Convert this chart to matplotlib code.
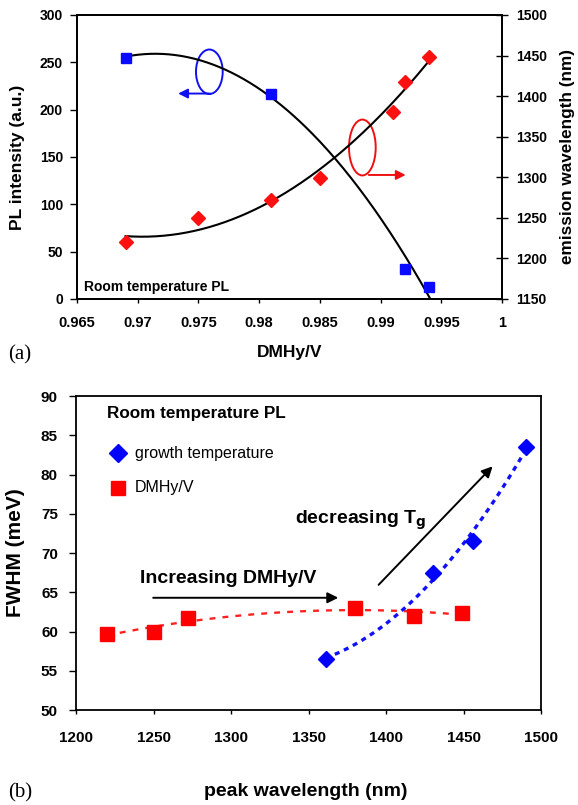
import numpy as np
import matplotlib
matplotlib.use("Agg")
import matplotlib.pyplot as plt
import matplotlib.patches as patches

plt.rcParams['font.family'] = ['Liberation Sans', 'DejaVu Sans']
plt.rcParams['font.weight'] = 'bold'

# (a) PL intensity and emission wavelength vs DMHy/V
dmhy_int = [0.969, 0.981, 0.992, 0.994]
pl_intensity = [255, 217, 32, 13]
dmhy_wl = [0.969, 0.975, 0.981, 0.985, 0.991, 0.992, 0.994]
emission_wl = [1220, 1250, 1272, 1299, 1380, 1418, 1448]
x_ticks_a = ['0.965', '0.97', '0.975', '0.98', '0.985', '0.99', '0.995', '1']

# (b) FWHM vs peak wavelength
wl_dmhy = [1220, 1250, 1272, 1380, 1418, 1449]
fwhm_dmhy = [59.7, 60.0, 61.7, 63.0, 62.0, 62.4]
wl_growth = [1361, 1430, 1456, 1490]
fwhm_growth = [56.5, 67.5, 71.5, 83.5]

BLUE = '#0a0aff'
RED = '#ff1010'

fig = plt.figure(figsize=(5.78, 8.05), dpi=100)

# ---------- panel (a) ----------
ax1 = fig.add_axes([0.1332, 0.6286, 0.7353, 0.3528])
ax1b = ax1.twinx()

# 2nd order trend lines
xs = np.linspace(min(dmhy_int), 0.9945, 200)
p_int = np.polyfit(dmhy_int, pl_intensity, 2)
ax1.plot(xs, np.polyval(p_int, xs), color='black', lw=1.5, zorder=2)
ax1.plot(dmhy_int, pl_intensity, 's', color=BLUE, ms=7.2, zorder=3)

xw = np.linspace(min(dmhy_wl), max(dmhy_wl), 200)
p_wl = np.polyfit(dmhy_wl, emission_wl, 2)
ax1b.plot(xw, np.polyval(p_wl, xw), color='black', lw=1.5, zorder=2)
ax1b.plot(dmhy_wl, emission_wl, 'D', color=RED, ms=7, zorder=3)

ax1.set_xlim(0.965, 1.0)
ax1.set_ylim(0, 300)
ax1b.set_ylim(1150, 1500)
ax1.set_xticks(np.linspace(0.965, 1.0, 8))
ax1.set_xticklabels(x_ticks_a)
ax1.set_yticks(np.arange(0, 301, 50))
ax1b.set_yticks(np.arange(1150, 1501, 50))
ax1.tick_params(axis='x', labelsize=10.5, length=3, width=1, pad=9)
ax1.tick_params(axis='y', labelsize=10, length=5, width=1, pad=5)
ax1b.tick_params(labelsize=10, length=8, width=1, direction='inout', pad=6)
ax1.set_xlabel('DMHy/V', fontsize=12.5, fontweight='bold', va='center')
ax1.xaxis.set_label_coords(0.5, -0.19)
ax1.set_ylabel('PL intensity (a.u.)', fontsize=12.5, fontweight='bold',
               va='center')
ax1.yaxis.set_label_coords(-0.141, 0.5)
ax1b.set_ylabel('emission wavelength (nm)', fontsize=12.3, fontweight='bold',
                va='center')
ax1b.yaxis.set_label_coords(1.155, 0.5)
for ax in (ax1, ax1b):
    for s in ax.spines.values():
        s.set_linewidth(1.3)

ax1.text(0.9656, 13, 'Room temperature PL', fontsize=10, fontweight='bold',
         va='center')

# blue ellipse pointing to left axis
ax1.add_patch(patches.Ellipse((0.9759, 240), 0.0022, 47, fill=False,
                              edgecolor='#1010ee', lw=1.4))
ax1.annotate('', xy=(0.9731, 217), xytext=(0.9762, 217),
             arrowprops=dict(arrowstyle='-|>', color='#1010ee', lw=1.4,
                             mutation_scale=14))
# red ellipse pointing to right axis
ax1.add_patch(patches.Ellipse((0.9885, 160), 0.0022, 59, fill=False,
                              edgecolor='#ee1010', lw=1.4, zorder=4))
ax1.annotate('', xy=(0.9923, 131), xytext=(0.9888, 131),
             arrowprops=dict(arrowstyle='-|>', color='#ee1010', lw=1.4,
                             mutation_scale=14))

fig.text(0.014, 1 - 355 / 805, '(a)', fontsize=15, family='Liberation Serif',
         fontweight='normal', va='center')

# ---------- panel (b) ----------
ax2 = fig.add_axes([0.1315, 0.118, 0.8045, 0.390])

xr = np.linspace(min(wl_dmhy), max(wl_dmhy), 200)
p_r = np.polyfit(wl_dmhy, fwhm_dmhy, 2)
ax2.plot(xr, np.polyval(p_r, xr), color='#ff2020', lw=1.7,
         dashes=(2.5, 3), zorder=2)
xb = np.linspace(min(wl_growth), max(wl_growth), 200)
p_b = np.polyfit(wl_growth, fwhm_growth, 2)
ax2.plot(xb, np.polyval(p_b, xb), color='#1010ff', lw=2.4,
         dashes=(1.5, 1.5), zorder=2)

ax2.plot(wl_dmhy, fwhm_dmhy, 's', color='#ff0000', ms=9.5, zorder=3)
ax2.plot(wl_growth, fwhm_growth, 'D', color='#0000ff', ms=8, zorder=3)

ax2.set_xlim(1200, 1500)
ax2.set_ylim(50, 90)
ax2.set_xticks(np.arange(1200, 1501, 50))
ax2.set_yticks(np.arange(50, 91, 5))
ax2.tick_params(axis='x', labelsize=11, length=3, width=1, pad=12)
ax2.tick_params(axis='y', labelsize=11, length=5, width=1, pad=8)
for s in ax2.spines.values():
    s.set_linewidth(1.3)
ax2.set_xlabel('peak wavelength (nm)', fontsize=14, fontweight='bold',
               va='center')
ax2.xaxis.set_label_coords(0.495, -0.261)
ax2.set_ylabel('FWHM (meV)', fontsize=15, fontweight='bold', va='center')
ax2.yaxis.set_label_coords(-0.131, 0.5)

ax2.text(1220, 87.8, 'Room temperature PL', fontsize=12.3, fontweight='bold',
         va='center')
# legend-like markers
ax2.plot([1227], [82.7], 'D', color='#0000ff', ms=8.8)
ax2.text(1238, 82.7, 'growth temperature', fontsize=11.5, fontweight='normal',
         va='center')
ax2.plot([1227], [78.3], 's', color='#ff0000', ms=10)
ax2.text(1238, 78.3, 'DMHy/V', fontsize=11.5, fontweight='normal',
         va='center')

ax2.text(1241, 66.7, 'Increasing DMHy/V', fontsize=14, fontweight='bold',
         va='center')
ax2.annotate('', xy=(1371, 64.3), xytext=(1248, 64.3),
             arrowprops=dict(arrowstyle='-|>', color='black', lw=1.4,
                             mutation_scale=16))
ax2.text(1341, 74.2, 'decreasing T$_\\mathbf{g}$', fontsize=14,
         fontweight='bold', va='center')
ax2.annotate('', xy=(1470, 81.3), xytext=(1394, 65.7),
             arrowprops=dict(arrowstyle='-|>', color='black', lw=1.4,
                             mutation_scale=16))

fig.text(0.014, 1 - 793 / 805, '(b)', fontsize=15, family='Liberation Serif',
         fontweight='normal', va='center')

fig.savefig('out.png', dpi=100)
